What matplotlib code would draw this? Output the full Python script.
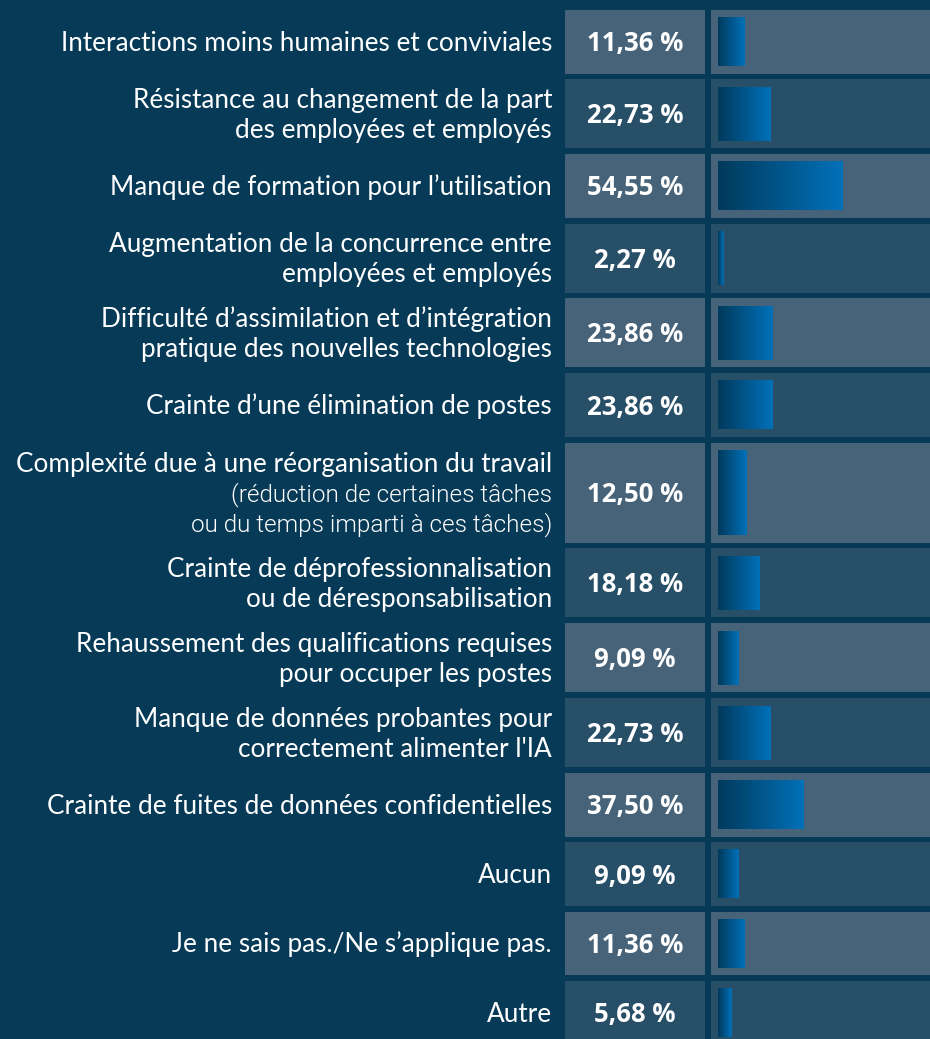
import numpy as np
import matplotlib.pyplot as plt
from matplotlib.patches import Rectangle
from matplotlib.colors import LinearSegmentedColormap

labels = [
    "Interactions moins humaines et conviviales",
    "Résistance au changement de la part\ndes employées et employés",
    "Manque de formation pour l’utilisation",
    "Augmentation de la concurrence entre\nemployées et employés",
    "Difficulté d’assimilation et d’intégration\npratique des nouvelles technologies",
    "Crainte d’une élimination de postes",
    "Complexité due à une réorganisation du travail",
    "Crainte de déprofessionnalisation\nou de déresponsabilisation",
    "Rehaussement des qualifications requises\npour occuper les postes",
    "Manque de données probantes pour\ncorrectement alimenter l'IA",
    "Crainte de fuites de données confidentielles",
    "Aucun",
    "Je ne sais pas./Ne s’applique pas.",
    "Autre",
]
notes = ["", "", "", "", "", "",
         "(réduction de certaines tâches\nou du temps imparti à ces tâches)",
         "", "", "", "", "", "", ""]
values = [11.36, 22.73, 54.55, 2.27, 23.86, 23.86, 12.50,
          18.18, 9.09, 22.73, 37.50, 9.09, 11.36, 5.68]

BG = "#063a57"
LIGHT = "#466379"
DARK = "#284f68"
W, H = 930, 1039

# row layout (pixels)
row_h = {1: 63.5, 2: 69, 3: 100}
gap = 5.85
tops, heights = [], []
y = 10
for lab, note in zip(labels, notes):
    n = lab.count("\n") + 1 + (note.count("\n") + 1 if note else 0)
    tops.append(y)
    heights.append(row_h[n])
    y += row_h[n] + gap
tops = np.array(tops)
heights = np.array(heights)
centers = tops + heights / 2

fig = plt.figure(figsize=(W / 100, H / 100), dpi=100, facecolor=BG)
ax = fig.add_axes([0, 0, 1, 1])
ax.set_xlim(0, W)
ax.set_ylim(H, 0)
ax.axis("off")

pitch = 30
for i, (lab, note, v) in enumerate(zip(labels, notes, values)):
    col = LIGHT if i % 2 == 0 else DARK
    ax.add_patch(Rectangle((565, tops[i]), 140, heights[i], color=col, lw=0))
    ax.add_patch(Rectangle((711, tops[i]), 230, heights[i], color=col, lw=0))
    lines = [(t, "Lato", "normal") for t in lab.split("\n")]
    if note:
        lines += [(t, "Roboto", 300) for t in note.split("\n")]
    n = len(lines)
    for k, (t, fam, w) in enumerate(lines):
        ax.text(552, centers[i] + 9 + (k - (n - 1) / 2) * pitch, t,
                ha="right", va="baseline", color="white",
                fontsize=18.8 if fam == "Lato" else 17.5,
                family=fam, fontweight=w)
    txt = f"{v:.2f}".replace(".", ",") + " %"
    ax.text(635, centers[i] + 9.5, txt, ha="center", va="baseline",
            color="white", fontsize=18.5, family="Open Sans", fontweight="bold")

# bars: 100 % ~ 229 px
bx = fig.add_axes([718 / W, 0, (W - 718) / W, 1])
bx.set_xlim(0, (W - 718) / 2.29)
bx.set_ylim(H, 0)
bx.axis("off")
bx.patch.set_alpha(0)
cmap = LinearSegmentedColormap.from_list("bar", ["#003a5c", "#0071b9"])
grad = np.linspace(0, 1, 256).reshape(1, -1)
bars = bx.barh(centers, values, height=heights - 15, color="#0071b9", lw=0)
for b, v in zip(bars, values):
    y0 = b.get_y()
    bx.imshow(grad, cmap=cmap, aspect="auto",
              extent=[0, v, y0 + b.get_height(), y0], zorder=3)
bx.set_xlim(0, (W - 718) / 2.29)
bx.set_ylim(H, 0)

fig.savefig("out.png", dpi=100, facecolor=BG)
